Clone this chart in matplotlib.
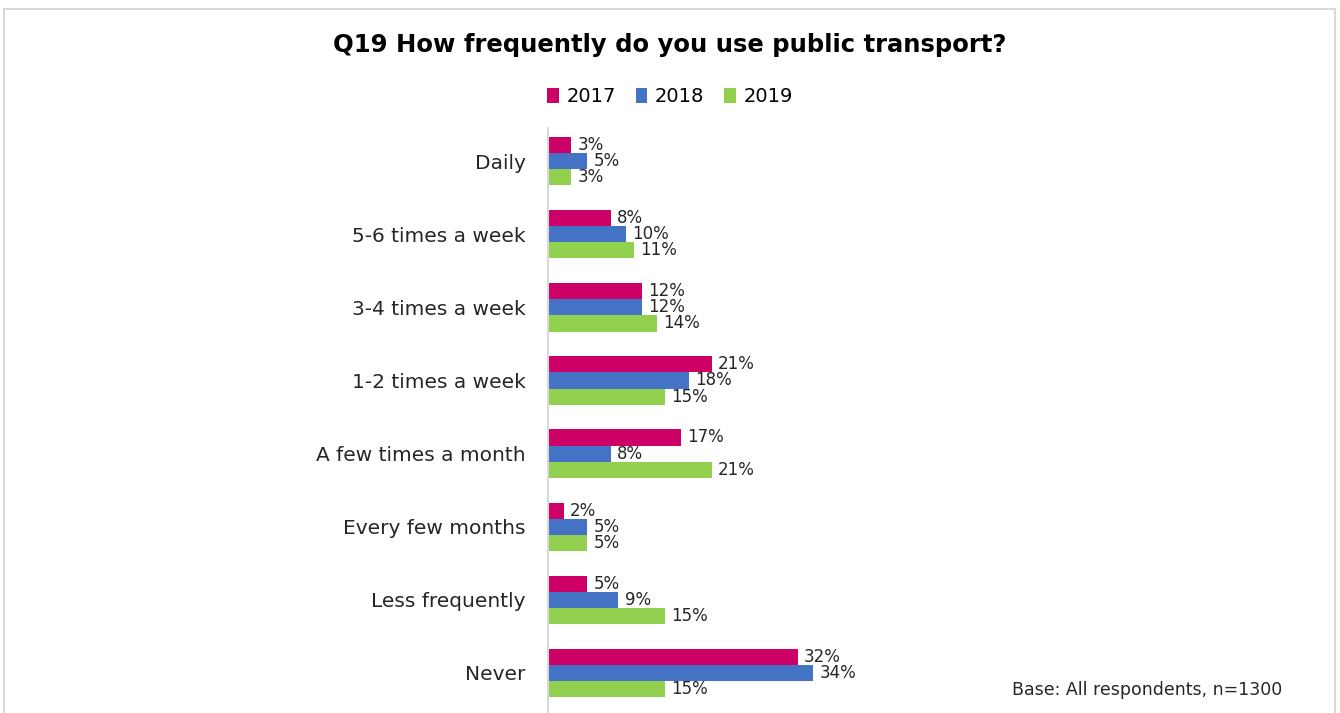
import numpy as np
import matplotlib.pyplot as plt
from matplotlib.patches import Rectangle

categories = ['Daily', '5-6 times a week', '3-4 times a week', '1-2 times a week',
              'A few times a month', 'Every few months', 'Less frequently', 'Never']
years = ['2017', '2018', '2019']
v2017 = [3, 8, 12, 21, 17, 2, 5, 32]
v2018 = [5, 10, 12, 18, 8, 5, 9, 34]
v2019 = [3, 11, 14, 15, 21, 5, 15, 15]
colors = ['#CC0066', '#4472C4', '#92D050']

plt.rcParams['font.family'] = ['DejaVu Sans']

fig = plt.figure(figsize=(13.4, 7.13), dpi=100)
ax = fig.add_axes([0.409, 0.0, 0.233, 0.820])

y = np.arange(len(categories))
h = 0.22
for i, (vals, c, lab) in enumerate(zip([v2017, v2018, v2019], colors, years)):
    pos = y + (i - 1) * h
    ax.barh(pos, vals, height=h, color=c, label=lab)
    for p, v in zip(pos, vals):
        ax.text(v + 0.8, p, f'{v}%', va='center', ha='left', fontsize=12, color='#262626')

ax.set_xlim(0, 40)
ax.set_ylim(len(categories) - 0.45, -0.45)
ax.set_yticks(y)
ax.set_yticklabels(categories, fontsize=14.5, color='#262626')
ax.tick_params(axis='y', length=0, pad=16)
ax.set_xticks([])
for s in ['top', 'right', 'bottom']:
    ax.spines[s].set_visible(False)
ax.spines['left'].set_color('#d9d9d9')
ax.spines['left'].set_linewidth(1.5)

fig.text(0.5, 0.937, 'Q19 How frequently do you use public transport?',
         ha='center', va='center', fontsize=17.5, fontweight='bold', color='black')

handles, labels = ax.get_legend_handles_labels()
fig.legend(handles, labels, loc='center', bbox_to_anchor=(0.5, 0.864), ncol=3,
           frameon=False, fontsize=14, handlelength=0.6, handleheight=0.8,
           handletextpad=0.4, columnspacing=1.0)

fig.text(0.957, 0.032, 'Base: All respondents, n=1300', ha='right', va='center',
         fontsize=12.5, color='#262626')

fig.patches.append(Rectangle((0.003, -0.01), 0.993, 0.998, transform=fig.transFigure,
                             fill=False, edgecolor='#d9d9d9', linewidth=1.5))

fig.savefig('out.png', dpi=100)
